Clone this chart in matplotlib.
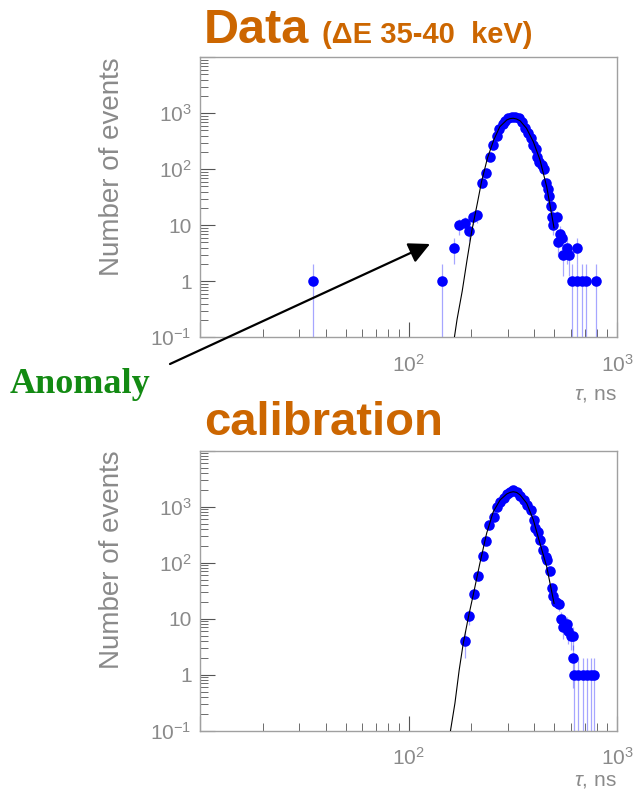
import numpy as np
import matplotlib
matplotlib.use('Agg')
import matplotlib.pyplot as plt
from matplotlib.ticker import LogLocator, NullFormatter, FixedLocator

plt.rcParams['font.family'] = ['Liberation Sans', 'DejaVu Sans']
plt.rcParams['mathtext.fontset'] = 'custom'
plt.rcParams['mathtext.rm'] = 'Liberation Sans'
plt.rcParams['mathtext.it'] = 'Liberation Sans:italic'
plt.rcParams['mathtext.default'] = 'regular'

# pulse shape tau (ns) and counts, data run dE 35-40 keV
data_tau = [34.8, 145, 165, 175, 186, 195, 203, 214, 224, 236, 245, 255, 265, 272,
            283, 291, 301, 313, 324, 337, 349, 362, 375, 387, 397, 408, 412, 422,
            435, 448, 455, 465, 473, 480, 486, 514, 495, 532, 547, 523, 574, 640,
            553, 589, 606, 641, 676, 714, 790]
data_n = [1, 1, 4, 10, 11, 8, 14, 15, 56, 87, 164, 272, 393, 515,
          640, 735, 810, 845, 870, 835, 710, 540, 440, 357, 272, 228, 168, 137,
          120, 100, 58, 44, 34, 22, 14, 14, 10, 7, 6, 5, 4, 4,
          3, 3, 1, 1, 1, 1, 1]
data_fit_tau = [166, 171, 181, 191, 201, 214, 224, 239, 256, 274, 296, 307, 318,
                330, 343, 368, 397, 427, 460, 499]
data_fit_n = [0.1, 0.21, 0.67, 2.44, 7.8, 25, 60, 157, 330, 575, 760, 805, 815,
              790, 735, 540, 310, 148, 49, 9]

# calibration run
cal_tau = [187, 196, 206, 215, 227, 236, 244, 256, 266, 275, 286, 296, 307, 318,
           330, 343, 358, 372, 387, 400, 405, 417, 427, 443, 455, 463, 479, 486,
           495, 510, 529, 537, 553, 574, 584, 600, 613, 615, 622, 653, 686, 716,
           749, 778]
cal_n = [4, 11, 28, 58, 133, 247, 471, 660, 975, 1200, 1450, 1690, 1850, 1990,
         1810, 1550, 1320, 1090, 873, 580, 411, 358, 254, 169, 125, 112, 72, 36,
         25, 20, 18, 10, 7, 8, 6, 5, 5, 2, 1, 1, 1, 1,
         1, 1]
cal_fit_tau = [159, 167, 175, 183, 194, 205, 220, 237, 255, 275, 296, 307, 318,
               330, 343, 369, 397, 427, 460, 499]
cal_fit_n = [0.1, 0.31, 1.21, 3.6, 10.9, 28, 98, 335, 813, 1320, 1690, 1800, 1850,
             1800, 1620, 1150, 580, 222, 85, 18.8]

xticks = [10, 100, 1000]
xtick_labels = ['', '$10^{2}$', '$10^{3}$']
yticks = [0.1, 1, 10, 100, 1000, 10000]
ytick_labels = ['$10^{-1}$', '1', '10', '$10^{2}$', '$10^{3}$', '']

grey = '#8a8a8a'
orange = '#cc6600'


def draw_panel(ax, tau, n, fit_tau, fit_n, xlab_y):
    tau = np.array(tau, float)
    n = np.array(n, float)
    err = np.sqrt(n)
    lo = np.minimum(err, n * 0.999)  # N=1 bars run down off the axis
    ax.errorbar(tau, n, yerr=[lo, err], fmt='none', ecolor=(0, 0, 1, 0.35),
                elinewidth=0.9, capsize=0, zorder=2)
    ax.plot(tau, n, 'o', color='#0000ff', ms=7.6, mec='none', zorder=3)
    ax.plot(fit_tau, fit_n, color='k', lw=0.8, zorder=4)

    ax.set_xscale('log')
    ax.set_yscale('log')
    ax.set_xlim(10, 1000)
    ax.set_ylim(0.1, 10000)

    ax.xaxis.set_major_locator(FixedLocator(xticks))
    ax.set_xticklabels(xtick_labels)
    ax.xaxis.set_minor_locator(LogLocator(base=10, subs=np.arange(2, 10)))
    ax.xaxis.set_minor_formatter(NullFormatter())
    ax.yaxis.set_major_locator(FixedLocator(yticks))
    ax.set_yticklabels(ytick_labels)
    ax.yaxis.set_minor_locator(LogLocator(base=10, subs=np.arange(2, 10)))
    ax.yaxis.set_minor_formatter(NullFormatter())

    ax.tick_params(which='both', direction='in', color='#555555',
                   labelcolor=grey, labelsize=15, top=False, right=False)
    ax.tick_params(which='major', length=11, width=0.8)
    ax.tick_params(which='minor', length=6, width=0.6)
    ax.tick_params(axis='x', pad=12)
    ax.tick_params(axis='y', pad=6)
    for s in ax.spines.values():
        s.set_color('#a0a0a0')
        s.set_linewidth(1.0)

    ax.text(-0.21, 1.0, 'Number of events', rotation=90, transform=ax.transAxes,
            ha='center', va='top', fontsize=20, color=grey)
    ax.text(1.0, xlab_y, r'$\mathit{\tau}$, ns', transform=ax.transAxes,
            ha='right', va='top', fontsize=15, color=grey)


W, H = 644, 795
fig = plt.figure(figsize=(W / 100, H / 100), dpi=100)
ax1 = fig.add_axes([200 / W, 1 - 337.3 / H, 417 / W, 280 / H])
ax2 = fig.add_axes([200 / W, 1 - 730.7 / H, 417 / W, 280 / H])

draw_panel(ax1, data_tau, data_n, data_fit_tau, data_fit_n, -0.17)
draw_panel(ax2, cal_tau, cal_n, cal_fit_tau, cal_fit_n, -0.145)

# titles
fig.text(204 / W, 1 - 43 / H, 'Data', fontsize=35, fontweight='bold',
         color=orange, va='baseline')
fig.text(322 / W, 1 - 43 / H, '(\u0394E 35-40  keV)', fontsize=21,
         fontweight='bold', color=orange, va='baseline')
fig.text(204 / W, 1 - 435 / H, 'calibration', fontsize=34, fontweight='bold',
         color=orange, va='baseline')

# anomaly pointer
fig.text(10 / W, 1 - 393 / H, 'Anomaly', fontsize=26, fontweight='bold',
         family=['Liberation Serif'], color='#138a13', va='baseline')
ax1.annotate('', xy=(430 / W, 1 - 244 / H), xycoords='figure fraction',
             xytext=(170 / W, 1 - 364 / H), textcoords='figure fraction',
             arrowprops=dict(arrowstyle='-|>', color='k', lw=1.6,
                             mutation_scale=32, shrinkA=0, shrinkB=0),
             annotation_clip=False)

fig.savefig('out.png', dpi=100)
